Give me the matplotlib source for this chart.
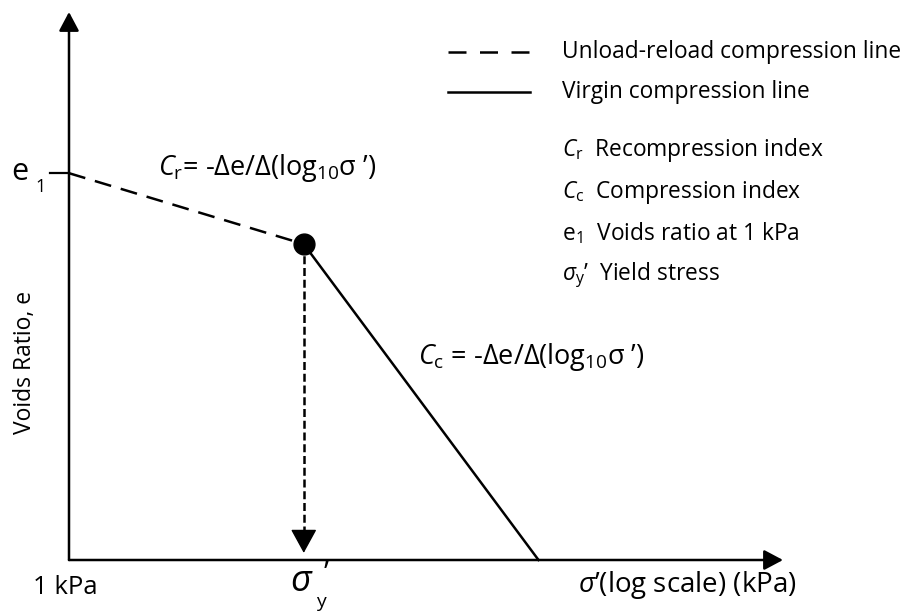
import numpy as np
import matplotlib
matplotlib.use('Agg')
import matplotlib.pyplot as plt
from matplotlib.lines import Line2D

plt.rcParams['font.family'] = ['Open Sans', 'DejaVu Sans']
plt.rcParams['mathtext.fontset'] = 'custom'
plt.rcParams['mathtext.rm'] = 'Open Sans'
plt.rcParams['mathtext.it'] = 'Open Sans:italic'
plt.rcParams['mathtext.bf'] = 'Open Sans:bold'

# schematic e - log(sigma') curve
sigma_unload = [1.0, 10.0]      # kPa
e_unload = [2.0, 1.78]
sigma_virgin = [10.0, 100.0]    # kPa
e_virgin = [1.78, 0.8]
sigma_yield = 10.0
e_yield = 1.78
e_min = 0.8
e_top = 2.5
sigma_max = 1100.0

legend_items = ["Unload-reload compression line", "Virgin compression line"]
symbol_items = [r"$C_{\mathrm{r}}$  Recompression index",
                r"$C_{\mathrm{c}}$  Compression index",
                r"e$_{\mathrm{1}}$  Voids ratio at 1 kPa",
                r"$\mathit{\sigma}_{\mathrm{y}}$’  Yield stress"]

W, H = 905, 615
fig = plt.figure(figsize=(W / 100, H / 100), dpi=100)

def fx(x):
    return x / W

def fy(y):
    return 1 - y / H

ax = fig.add_axes([fx(69), fy(560), fx(783) - fx(69), fy(12) - fy(560)])
ax.set_xscale('log')
ax.set_xlim(1, sigma_max)
ax.set_ylim(e_min, e_top)
ax.axis('off')

# axes with arrow heads
arrow = dict(arrowstyle='-|>,head_length=0.64,head_width=0.34', lw=1.8, color='black',
             mutation_scale=18, shrinkA=0, shrinkB=0)
ax.annotate('', xy=(sigma_max, e_min), xytext=(1, e_min), arrowprops=arrow,
            annotation_clip=False)
ax.annotate('', xy=(1, e_top), xytext=(1, e_min), arrowprops=arrow,
            annotation_clip=False)

# e1 tick
ax.plot([0.83, 1], [e_unload[0], e_unload[0]], color='black', lw=1.6, clip_on=False)

# compression lines
ax.plot(sigma_unload, e_unload, color='black', lw=1.8, dashes=(6.8, 4), clip_on=False)
ax.plot(sigma_virgin, e_virgin, color='black', lw=1.8, clip_on=False)

# yield stress arrow down to the axis
ax.plot([sigma_yield, sigma_yield], [e_yield, e_min + 0.06], color='black', lw=1.8,
        dashes=(3.2, 1.5))
ax.annotate('', xy=(sigma_yield, e_min + 0.022), xytext=(sigma_yield, e_min + 0.09),
            arrowprops=dict(arrowstyle='-|>,head_length=0.84,head_width=0.46', lw=1,
                            color='black', mutation_scale=18, shrinkA=0, shrinkB=0))
ax.plot([sigma_yield], [e_yield], 'o', color='black', markersize=15, zorder=5)

# labels
fig.text(fx(11), fy(172), "e", fontsize=22, va='center', ha='left')
fig.text(fx(35), fy(187), "1", fontsize=13, va='center', ha='left')
fig.text(fx(25), fy(362), "Voids Ratio, e", fontsize=16.5, rotation=90,
         va='center', ha='center')
fig.text(fx(33), fy(587), "1 kPa", fontsize=18.5, va='center', ha='left')

# sigma_y' under the yield arrow
fig.text(fx(290), fy(582), "σ", fontsize=26, style='italic', va='center', ha='left')
fig.text(fx(316), fy(602), "y", fontsize=14, va='center', ha='left')
fig.text(fx(324), fy(574), "’", fontsize=22, va='center', ha='left')

fig.text(fx(578), fy(585), r"$\mathit{\sigma}$’(log scale) (kPa)", fontsize=20,
         va='center', ha='left')
fig.text(fx(158), fy(168), r"$C_{\mathrm{r}}$= -Δe/Δ(log$_{10}$σ ’)", fontsize=19.5,
         va='center', ha='left')
fig.text(fx(418), fy(357), r"$C_{\mathrm{c}}$ = -Δe/Δ(log$_{10}$σ ’)", fontsize=19.5,
         va='center', ha='left')

# key
key_styles = [dict(dashes=(7.2, 5.4)), dict()]
for i, (label, style) in enumerate(zip(legend_items, key_styles)):
    y = [52, 92][i]
    fig.add_artist(Line2D([fx(448), fx(530)], [fy(y), fy(y)], color='black', lw=1.8,
                          **style))
    fig.text(fx(562), fy(y), label, fontsize=16.4, va='center', ha='left')

for label, y in zip(symbol_items, [150, 192, 233, 275]):
    fig.text(fx(562), fy(y), label, fontsize=16.4, va='center', ha='left')

fig.savefig("out.png", dpi=100)
